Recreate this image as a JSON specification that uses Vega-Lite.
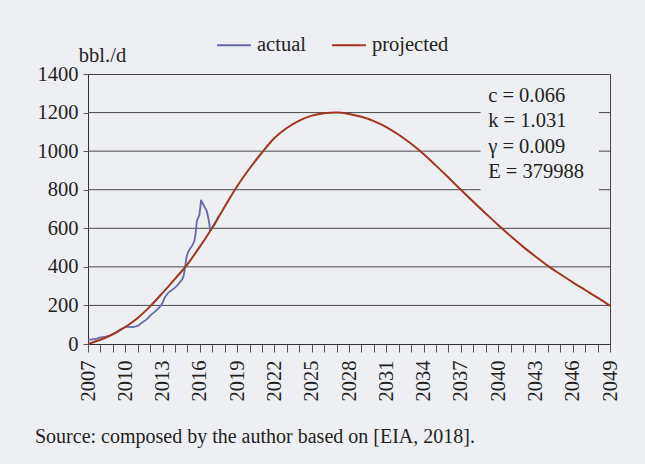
{
  "$schema": "https://vega.github.io/schema/vega-lite/v6.json",
  "width": 522,
  "height": 270,
  "autosize": "none",
  "padding": {"left": 88, "top": 74, "right": 35, "bottom": 120},
  "background": "#eeeff3",
  "config": {
    "view": {"stroke": "#444444", "strokeWidth": 1},
    "font": "Liberation Serif"
  },
  "datasets": {
    "actual": [
      {"year": 2007.00, "value": 21}, {"year": 2007.38, "value": 24}, {"year": 2007.64, "value": 26},
      {"year": 2007.91, "value": 33}, {"year": 2008.18, "value": 36}, {"year": 2008.45, "value": 38},
      {"year": 2008.72, "value": 44}, {"year": 2008.99, "value": 52}, {"year": 2009.25, "value": 60},
      {"year": 2009.52, "value": 73}, {"year": 2009.79, "value": 82}, {"year": 2010.06, "value": 90},
      {"year": 2010.33, "value": 89}, {"year": 2010.60, "value": 88}, {"year": 2010.86, "value": 92},
      {"year": 2011.08, "value": 96}, {"year": 2011.27, "value": 108}, {"year": 2011.46, "value": 115},
      {"year": 2011.67, "value": 125}, {"year": 2011.88, "value": 138}, {"year": 2012.07, "value": 151},
      {"year": 2012.34, "value": 165}, {"year": 2012.61, "value": 181}, {"year": 2012.88, "value": 200},
      {"year": 2013.01, "value": 215}, {"year": 2013.17, "value": 240}, {"year": 2013.33, "value": 255},
      {"year": 2013.49, "value": 268}, {"year": 2013.71, "value": 277}, {"year": 2013.95, "value": 290},
      {"year": 2014.17, "value": 303}, {"year": 2014.35, "value": 317}, {"year": 2014.51, "value": 330},
      {"year": 2014.62, "value": 340}, {"year": 2014.70, "value": 355}, {"year": 2014.78, "value": 385},
      {"year": 2014.86, "value": 420}, {"year": 2014.94, "value": 455}, {"year": 2015.08, "value": 480},
      {"year": 2015.24, "value": 497}, {"year": 2015.43, "value": 515}, {"year": 2015.56, "value": 535},
      {"year": 2015.64, "value": 565}, {"year": 2015.70, "value": 600}, {"year": 2015.75, "value": 635},
      {"year": 2015.86, "value": 655}, {"year": 2015.96, "value": 668}, {"year": 2016.04, "value": 710},
      {"year": 2016.10, "value": 748}, {"year": 2016.18, "value": 735}, {"year": 2016.29, "value": 722},
      {"year": 2016.42, "value": 705}, {"year": 2016.55, "value": 690}, {"year": 2016.66, "value": 660},
      {"year": 2016.77, "value": 620}, {"year": 2016.82, "value": 590}, {"year": 2016.96, "value": 600},
      {"year": 2017.12, "value": 615}, {"year": 2017.31, "value": 635}, {"year": 2017.52, "value": 665}
    ],
    "projected": [
      {"year": 2007, "value": 0}, {"year": 2008, "value": 22}, {"year": 2009, "value": 50},
      {"year": 2010, "value": 88}, {"year": 2011, "value": 135}, {"year": 2012, "value": 195},
      {"year": 2013, "value": 265}, {"year": 2014, "value": 338}, {"year": 2015, "value": 413},
      {"year": 2016, "value": 505}, {"year": 2017, "value": 603}, {"year": 2018, "value": 712},
      {"year": 2019, "value": 818}, {"year": 2020, "value": 910}, {"year": 2021, "value": 993},
      {"year": 2022, "value": 1068}, {"year": 2023, "value": 1120}, {"year": 2024, "value": 1158},
      {"year": 2025, "value": 1184}, {"year": 2026, "value": 1197}, {"year": 2027, "value": 1200},
      {"year": 2028, "value": 1193}, {"year": 2029, "value": 1178}, {"year": 2030, "value": 1156},
      {"year": 2031, "value": 1125}, {"year": 2032, "value": 1085}, {"year": 2033, "value": 1038},
      {"year": 2034, "value": 985}, {"year": 2035, "value": 925}, {"year": 2036, "value": 863},
      {"year": 2037, "value": 800}, {"year": 2038, "value": 738}, {"year": 2039, "value": 677},
      {"year": 2040, "value": 617}, {"year": 2041, "value": 560}, {"year": 2042, "value": 505},
      {"year": 2043, "value": 454}, {"year": 2044, "value": 405}, {"year": 2045, "value": 362},
      {"year": 2046, "value": 320}, {"year": 2047, "value": 280}, {"year": 2048, "value": 240},
      {"year": 2049, "value": 198}
    ],
    "gridlines": [
      {"value": 200, "year": 2007, "year2": 2049},
      {"value": 400, "year": 2007, "year2": 2049},
      {"value": 600, "year": 2007, "year2": 2049},
      {"value": 800, "year": 2007, "year2": 2038.6},
      {"value": 800, "year": 2048.1, "year2": 2049},
      {"value": 1000, "year": 2007, "year2": 2038.6},
      {"value": 1000, "year": 2048.1, "year2": 2049},
      {"value": 1200, "year": 2007, "year2": 2038.6},
      {"value": 1200, "year": 2048.1, "year2": 2049}
    ],
    "box": [
      {"year": 2038.6, "year2": 2048.1, "value": 720, "value2": 1330}
    ],
    "params": [
      {"year": 2039.2, "value": 1255}
    ]
  },
  "title": {
    "text": "Source: composed by the author based on [EIA, 2018].",
    "orient": "bottom",
    "anchor": "start",
    "frame": "group",
    "dx": -53,
    "offset": 26,
    "font": "Liberation Serif",
    "fontSize": 20,
    "fontWeight": "normal",
    "color": "#231f20"
  },
  "encoding": {
    "x": {
      "field": "year",
      "type": "quantitative",
      "scale": {"domain": [2007, 2049], "nice": false, "zero": false},
      "axis": {
        "title": null,
        "grid": false,
        "values": [2007,2008,2009,2010,2011,2012,2013,2014,2015,2016,2017,2018,2019,2020,2021,2022,2023,2024,2025,2026,2027,2028,2029,2030,2031,2032,2033,2034,2035,2036,2037,2038,2039,2040,2041,2042,2043,2044,2045,2046,2047,2048,2049],
        "labelExpr": "(datum.value - 2007) % 3 == 0 ? datum.label : ''",
        "format": "d",
        "labelAngle": 270,
        "labelOverlap": false,
        "labelFlush": false,
        "labelBound": false,
        "labelFontSize": 20.5,
        "labelColor": "#231f20",
        "labelPadding": 8,
        "tickSize": 8,
        "tickColor": "#555555",
        "domainColor": "#333333"
      }
    },
    "y": {
      "field": "value",
      "type": "quantitative",
      "scale": {"domain": [0, 1400], "nice": false},
      "axis": {
        "values": [0, 200, 400, 600, 800, 1000, 1200, 1400],
        "format": "d",
        "labelOverlap": false,
        "grid": false,
        "tickSize": 5,
        "tickColor": "#555555",
        "domainColor": "#333333",
        "labelFontSize": 20.5,
        "labelColor": "#231f20",
        "labelPadding": 5,
        "title": "bbl./d",
        "titleAngle": 0,
        "titleAlign": "center",
        "titleBaseline": "alphabetic",
        "titleX": 14,
        "titleY": -13,
        "titleFontSize": 20.5,
        "titleFontWeight": "normal",
        "titleColor": "#231f20",
        "titleFont": "Liberation Serif"
      }
    }
  },
  "layer": [
    {
      "data": {"name": "gridlines"},
      "mark": {"type": "rule", "color": "#4a4a4a", "strokeWidth": 1},
      "encoding": {
        "x2": {"field": "year2"}
      }
    },
    {
      "data": {"name": "box"},
      "mark": {"type": "rect", "fill": "#eeeff3"},
      "encoding": {
        "x": {
          "field": "year",
          "type": "quantitative",
          "scale": {"domain": [2007, 2049], "nice": false, "zero": false},
          "axis": {
            "title": null,
            "grid": false,
            "values": [2007,2008,2009,2010,2011,2012,2013,2014,2015,2016,2017,2018,2019,2020,2021,2022,2023,2024,2025,2026,2027,2028,2029,2030,2031,2032,2033,2034,2035,2036,2037,2038,2039,2040,2041,2042,2043,2044,2045,2046,2047,2048,2049],
            "labelExpr": "(datum.value - 2007) % 3 == 0 ? datum.label : ''",
            "format": "d",
            "labelAngle": 270,
            "labelOverlap": false,
            "labelFlush": false,
            "labelBound": false,
            "labelFontSize": 20.5,
            "labelColor": "#231f20",
            "labelPadding": 8,
            "tickSize": 8,
            "tickColor": "#555555",
            "domainColor": "#333333"
          }
        },
        "x2": {"field": "year2"},
        "y": {
          "field": "value",
          "type": "quantitative",
          "scale": {"domain": [0, 1400], "nice": false},
          "axis": {
            "values": [0, 200, 400, 600, 800, 1000, 1200, 1400],
            "format": "d",
            "labelOverlap": false,
            "grid": false,
            "tickSize": 5,
            "tickColor": "#555555",
            "domainColor": "#333333",
            "labelFontSize": 20.5,
            "labelColor": "#231f20",
            "labelPadding": 5,
            "title": "bbl./d",
            "titleAngle": 0,
            "titleAlign": "center",
            "titleBaseline": "alphabetic",
            "titleX": 14,
            "titleY": -13,
            "titleFontSize": 20.5,
            "titleFontWeight": "normal",
            "titleColor": "#231f20",
            "titleFont": "Liberation Serif"
          }
        },
        "y2": {"field": "value2"}
      }
    },
    {
      "data": {"name": "actual"},
      "mark": {"type": "line", "strokeWidth": 1.8},
      "encoding": {
        "color": {
          "datum": "actual",
          "type": "nominal",
          "scale": {"domain": ["actual", "projected"], "range": ["#6569aa", "#a33520"]},
          "legend": {
            "title": null,
            "orient": "none",
            "direction": "horizontal",
            "legendX": 128,
            "legendY": -47,
            "symbolType": "stroke",
            "symbolSize": 1150,
            "symbolStrokeWidth": 2,
            "labelFontSize": 20.5,
            "labelFont": "Liberation Serif",
            "labelColor": "#231f20",
            "labelOffset": 5,
            "columnPadding": 22
          }
        }
      }
    },
    {
      "data": {"name": "projected"},
      "mark": {"type": "line", "strokeWidth": 2, "interpolate": "monotone"},
      "encoding": {
        "color": {"datum": "projected", "type": "nominal"}
      }
    },
    {
      "data": {"name": "params"},
      "mark": {
        "type": "text",
        "align": "left",
        "baseline": "alphabetic",
        "fontSize": 20.5,
        "lineHeight": 25.3,
        "color": "#231f20",
        "font": "Liberation Serif"
      },
      "encoding": {
        "text": {"value": ["c = 0.066", "k = 1.031", "γ = 0.009", "E = 379988"]}
      }
    }
  ]
}
